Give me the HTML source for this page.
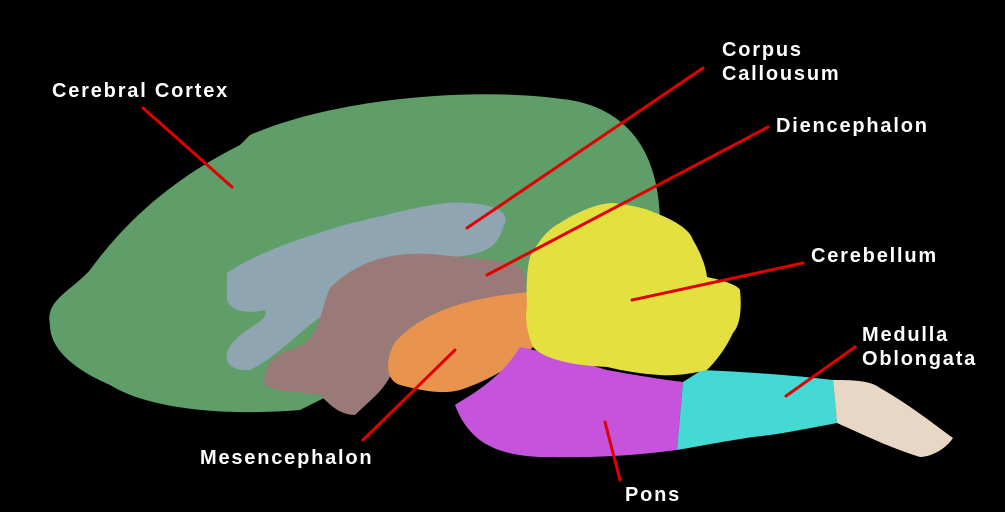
<!DOCTYPE html>
<html><head><meta charset="utf-8"><style>
html,body{margin:0;padding:0;background:#000;}
svg{display:block}
text{font-family:"Liberation Sans",sans-serif;font-weight:bold;font-size:20px;fill:#fff;letter-spacing:1.8px;}
</style></head><body>
<svg width="1005" height="512" viewBox="0 0 1005 512">
<rect width="1005" height="512" fill="#000"/>
<path d="M50,325 C45,300 70,292 90,270 C130,215 180,175 240,145 L 250,135 C330,100 470,85 570,100 C640,112 668,170 658,258 L 600,275 L 520,300 L 300,410 C 230,416 150,410 110,385 C 80,372 50,352 50,325 Z" fill="#5f9e68"/>
<path d="M227,273 C260,250 320,232 352,223 C400,212 440,200 469,203 C500,205 510,215 504,225 C498,245 490,250 470,255 C420,262 380,262 361,267 C340,280 335,300 326,313 C300,330 280,355 250,370 C225,372 220,355 235,340 C250,325 270,320 265,310 C245,315 225,310 227,295 Z" fill="#8fa6b2"/>
<path d="M330,288 C360,258 400,250 440,255 C470,258 510,260 522,268 C528,280 527,290 522,296 C490,300 455,302 430,318 C405,332 395,345 392,372 C385,390 370,400 355,415 C340,415 330,405 320,395 C300,392 275,392 265,385 C262,370 270,355 295,348 C320,340 320,310 330,288 Z" fill="#9a7a78"/>
<path d="M395,342 C420,315 460,298 530,292 C540,310 540,330 535,345 C515,365 490,380 460,390 C440,395 420,390 400,385 C385,380 385,360 395,342 Z" fill="#e8944e"/>
<path d="M520,347 C560,355 590,365 607,370 C640,376 665,380 683,382 L677,450 C640,455 600,458 540,457 C500,455 470,445 455,405 C470,395 500,380 520,347 Z" fill="#c653dc"/>
<path d="M683,382 L702,370 C750,372 800,376 833,380 L837,423 C800,430 775,435 753,437 C720,442 700,446 677,450 Z" fill="#45d9d6"/>
<path d="M833,380 C850,380 870,380 880,388 C910,405 935,425 953,438 C945,450 930,457 920,457 C890,448 860,433 837,423 Z" fill="#e9d7c5"/>
<path d="M530,257 C540,238 550,228 560,223 C580,210 600,203 613,203 C630,205 645,208 653,212 C675,220 690,230 693,240 C702,255 706,268 707,277 C722,280 738,285 740,290 C742,310 740,325 733,333 C725,350 715,362 707,370 C690,374 675,376 660,375 C640,374 620,370 607,367 C590,366 580,365 570,363 C555,360 540,355 533,347 C526,330 525,315 527,307 C526,285 527,268 530,257 Z" fill="#e3e040"/>
<g stroke="#e00000" stroke-width="3" stroke-linecap="round">
<line x1="143" y1="108" x2="232" y2="187"/>
<line x1="703" y1="68" x2="467" y2="228"/>
<line x1="768" y1="127" x2="487" y2="275"/>
<line x1="803" y1="263" x2="632" y2="300"/>
<line x1="855" y1="347" x2="786" y2="396"/>
<line x1="363" y1="440" x2="455" y2="350"/>
<line x1="620" y1="480" x2="605" y2="422"/>
</g>
<text x="52" y="97">Cerebral Cortex</text>
<text x="722" y="56">Corpus</text>
<text x="722" y="80">Callousum</text>
<text x="776" y="132">Diencephalon</text>
<text x="811" y="262">Cerebellum</text>
<text x="862" y="341">Medulla</text>
<text x="862" y="365">Oblongata</text>
<text x="200" y="464">Mesencephalon</text>
<text x="625" y="501">Pons</text>
</svg>
</body></html>
